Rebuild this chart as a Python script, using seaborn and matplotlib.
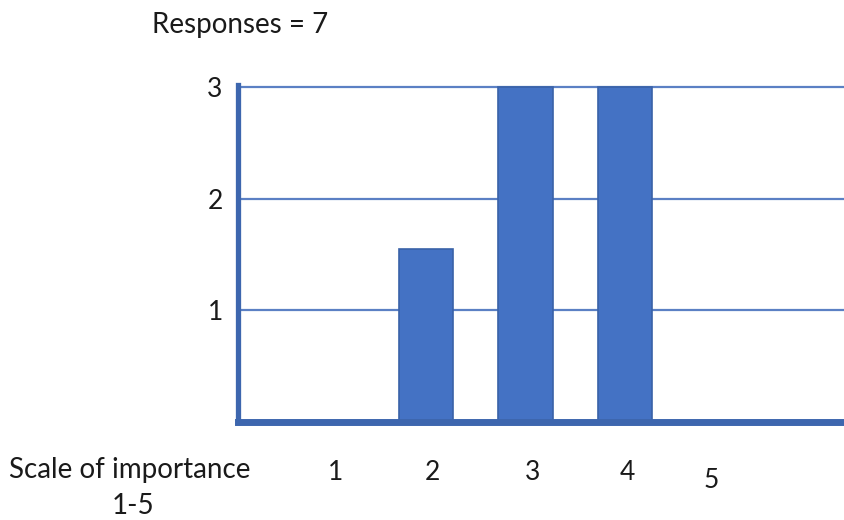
import matplotlib
matplotlib.use("Agg")
import matplotlib.pyplot as plt
import matplotlib.transforms as mtransforms
import seaborn as sns
import pandas as pd

# Survey results: number of responses at each importance level
scale = [1, 2, 3, 4, 5]
counts = [0, 1.55, 3, 3, 0]
tick_labels = ["1", "2", "3", "4", "5"]
y_ticks = [1, 2, 3]
title = "Responses = 7"
caption_lines = ["Scale of importance", "1-5"]

df = pd.DataFrame({"scale": scale, "count": counts})

sns.set_theme(style="white")
plt.rcParams["font.family"] = ["Lato", "DejaVu Sans"]

bar_blue = "#4472C4"
edge_blue = "#3A62A8"
axis_blue = "#3D66AE"
text_color = "#1a1a1a"

fig = plt.figure(figsize=(8.45, 5.2), dpi=100)
ax = fig.add_axes([238 / 845, 1 - 422 / 520, 1 - 238 / 845, (422 - 85) / 520])

sns.barplot(data=df, x="scale", y="count", native_scale=True, color=bar_blue,
            width=0.55, saturation=1, edgecolor=edge_blue, linewidth=1.2, ax=ax,
            zorder=3)

ax.set_xlim(0.11, 6.21)
ax.set_ylim(0, 3.02)

# horizontal gridlines
for y in y_ticks:
    ax.axhline(y, color="#5B80C4", lw=1.6, zorder=1)

ax.set_yticks(y_ticks)
ax.set_yticklabels([str(v) for v in y_ticks], fontsize=19, color=text_color)
ax.tick_params(axis="y", length=0, pad=11)
ax.set_xticks([])
ax.set_xlabel("")
ax.set_ylabel("")

for side in ["top", "right"]:
    ax.spines[side].set_visible(False)
ax.spines["left"].set_color(axis_blue)
ax.spines["left"].set_linewidth(3.8)
ax.spines["bottom"].set_color(axis_blue)
ax.spines["bottom"].set_linewidth(5)
ax.spines["left"].set_zorder(4)
ax.spines["bottom"].set_zorder(4)

# category labels under the axis
trans = mtransforms.blended_transform_factory(ax.transData, fig.transFigure)
label_x = [1.095, 2.06, 3.07, 4.02, 4.87]
label_y = [1 - 472 / 520] * 4 + [1 - 480 / 520]
for lx, ly, lab in zip(label_x, label_y, tick_labels):
    ax.text(lx, ly, lab, transform=trans, ha="center", va="center",
            fontsize=19, color=text_color)

fig.text(130 / 845, 1 - 470 / 520, caption_lines[0], ha="center", va="center",
         fontsize=20, color=text_color)
fig.text(133 / 845, 1 - 506 / 520, caption_lines[1], ha="center", va="center",
         fontsize=20, color=text_color)
fig.text(240 / 845, 1 - 25 / 520, title, ha="center", va="center",
         fontsize=20, color=text_color)

fig.savefig("out.png", dpi=100)
